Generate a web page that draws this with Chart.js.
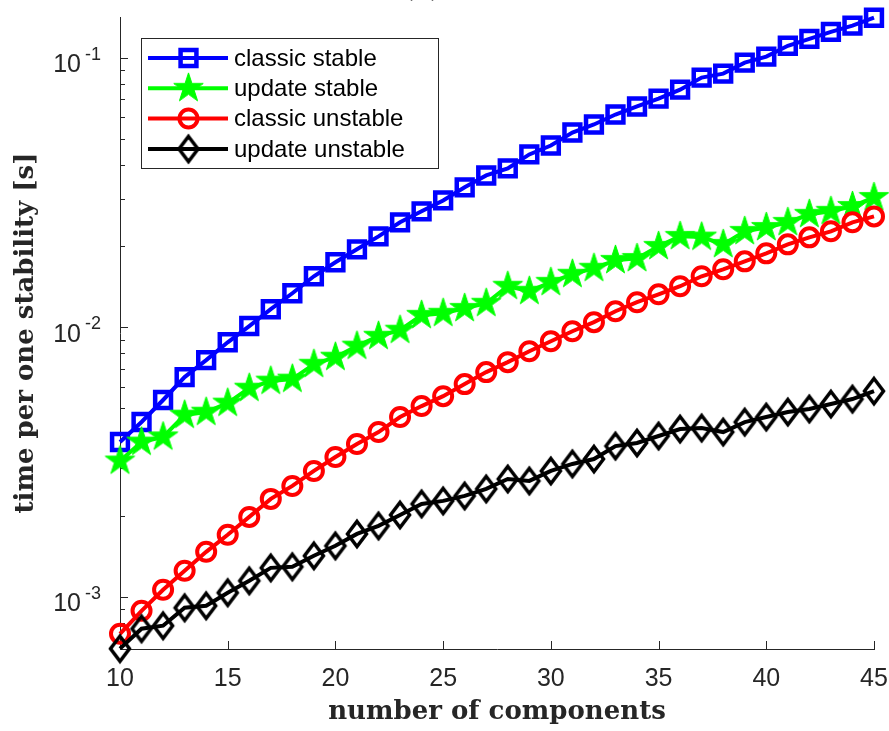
<!DOCTYPE html>
<html>
<head>
<meta charset="utf-8">
<script src="https://cdn.jsdelivr.net/npm/chart.js@4.4.1/dist/chart.umd.min.js"></script>
<style>
  html, body { margin: 0; padding: 0; background: #fff; }
  #wrap { width: 889px; height: 731px; }
</style>
</head>
<body>
<div id="wrap"><canvas id="chart"></canvas></div>
<script>
// values (seconds per stability check)
const components = [10, 11, 12, 13, 14, 15, 16, 17, 18, 19, 20, 21, 22, 23, 24, 25, 26, 27,
                    28, 29, 30, 31, 32, 33, 34, 35, 36, 37, 38, 39, 40, 41, 42, 43, 44, 45];
const classicStable = [0.00375, 0.00445, 0.00537, 0.00653, 0.00755, 0.00879, 0.0101, 0.01166, 0.01336,
                       0.01545, 0.01741, 0.01945, 0.02173, 0.02449, 0.02691, 0.02953, 0.03302, 0.03655,
                       0.03882, 0.04375, 0.04721, 0.05275, 0.05649, 0.06151, 0.06589, 0.07047, 0.07608,
                       0.08433, 0.08724, 0.0958, 0.1009, 0.1107, 0.1174, 0.1247, 0.1314, 0.1406];
const updateStable = [0.00319, 0.00375, 0.00392, 0.00472, 0.00484, 0.00523, 0.00594, 0.00631, 0.00642,
                      0.00729, 0.00774, 0.00851, 0.00926, 0.00975, 0.01107, 0.01127, 0.01175, 0.01227,
                      0.01419, 0.0136, 0.01468, 0.01572, 0.01655, 0.0177, 0.018, 0.01995, 0.02173,
                      0.0216, 0.02029, 0.02268, 0.02345, 0.02449, 0.02623, 0.02691, 0.02806, 0.0303];
const classicUnstable = [0.000729, 0.000887, 0.001062, 0.001248, 0.001468, 0.001698, 0.001978, 0.002307,
                         0.002577, 0.002929, 0.003301, 0.003687, 0.004083, 0.004642, 0.005097, 0.005548,
                         0.00615, 0.006813, 0.00742, 0.008147, 0.008873, 0.009661, 0.01044, 0.01146,
                         0.01238, 0.01324, 0.01419, 0.01545, 0.0164, 0.01755, 0.01879, 0.02029, 0.02154,
                         0.02268, 0.02449, 0.02577];
const updateUnstable = [0.000642, 0.000761, 0.000781, 0.00091, 0.000926, 0.001035, 0.001146, 0.00128,
                        0.001292, 0.001419, 0.001545, 0.001711, 0.001832, 0.002012, 0.00221, 0.002268,
                        0.002366, 0.002512, 0.002735, 0.00269, 0.002929, 0.00311, 0.003243, 0.003623,
                        0.003719, 0.003948, 0.00419, 0.004226, 0.004083, 0.004446, 0.004642, 0.004844,
                        0.004972, 0.005188, 0.005412, 0.005794];

const xTicks = [10, 15, 20, 25, 30, 35, 40, 45];
const yMajorTicks = [0.001, 0.01, 0.1];
const yTickExponents = ['-3', '-2', '-1'];
const yRange = [0.00064, 0.1415];

const axisColor = '#262626';

// minor log ticks 2..9 in each decade inside the range
const yMinorTicks = [];
[0.0001, 0.001, 0.01, 0.1].forEach(d => {
    for (let m = 2; m <= 9; m++) {
        const v = m * d;
        if (v >= yRange[0] && v <= yRange[1]) yMinorTicks.push(v);
    }
});

// marker images for the shapes chart.js doesn't have
function makeStar(color, R) {
    const c = document.createElement('canvas');
    const s = Math.ceil(2 * R + 4);
    c.width = s; c.height = s;
    const g = c.getContext('2d');
    const r = R * 0.382;
    g.beginPath();
    for (let i = 0; i < 10; i++) {
        const rad = i % 2 === 0 ? R : r;
        const a = -Math.PI / 2 + i * Math.PI / 5;
        const px = s / 2 + rad * Math.cos(a), py = s / 2 + rad * Math.sin(a);
        if (i === 0) g.moveTo(px, py); else g.lineTo(px, py);
    }
    g.closePath();
    g.fillStyle = color;
    g.strokeStyle = color;
    g.lineWidth = 1;
    g.fill();
    g.stroke();
    return c;
}

function makeDiamond(color, a, b, lw) {
    const c = document.createElement('canvas');
    const w = Math.ceil(2 * a + 2 * lw + 2), h = Math.ceil(2 * b + 2 * lw + 4);
    c.width = w; c.height = h;
    const g = c.getContext('2d');
    g.beginPath();
    g.moveTo(w / 2, h / 2 - b);
    g.lineTo(w / 2 + a, h / 2);
    g.lineTo(w / 2, h / 2 + b);
    g.lineTo(w / 2 - a, h / 2);
    g.closePath();
    g.strokeStyle = color;
    g.lineWidth = lw;
    g.stroke();
    return c;
}

const starImg = makeStar('#00ff00', 15.5);
const diamondImg = makeDiamond('#000000', 9.5, 12.5, 3.5);

function pts(arr) {
    return components.map((c, i) => ({ x: c, y: arr[i] }));
}

const datasets = [
    {
        label: 'classic stable', data: pts(classicStable),
        borderColor: '#0000ff', borderWidth: 4,
        pointStyle: 'rect', pointRadius: 11.2, pointBorderWidth: 4.5,
        pointBorderColor: '#0000ff', pointBackgroundColor: 'rgba(0,0,0,0)',
        order: 4
    },
    {
        label: 'update stable', data: pts(updateStable),
        borderColor: '#00ff00', borderWidth: 4,
        pointStyle: starImg, pointRadius: 15,
        pointBorderColor: '#00ff00', pointBackgroundColor: '#00ff00',
        order: 3
    },
    {
        label: 'classic unstable', data: pts(classicUnstable),
        borderColor: '#ff0000', borderWidth: 4,
        pointStyle: 'circle', pointRadius: 9, pointBorderWidth: 4,
        pointBorderColor: '#ff0000', pointBackgroundColor: 'rgba(0,0,0,0)',
        order: 2
    },
    {
        label: 'update unstable', data: pts(updateUnstable),
        borderColor: '#000000', borderWidth: 4,
        pointStyle: diamondImg, pointRadius: 13,
        pointBorderColor: '#000000', pointBackgroundColor: 'rgba(0,0,0,0)',
        order: 1
    }
];
datasets.forEach(d => { d.clip = false; d.tension = 0; d.fill = false; });

function noPad(s) {
    s.paddingLeft = 0; s.paddingRight = 0; s.paddingTop = 0; s.paddingBottom = 0;
}

// matlab style: inward ticks, 10^k labels, boxed legend
const matlabAxes = {
    id: 'matlabAxes',
    beforeDatasetsDraw(chart) {
        const { ctx, chartArea, scales: { x, y } } = chart;
        ctx.save();
        ctx.strokeStyle = axisColor;
        ctx.lineWidth = 1;
        ctx.beginPath();
        xTicks.forEach(v => {
            const px = Math.round(x.getPixelForValue(v)) + 0.5;
            ctx.moveTo(px, chartArea.bottom);
            ctx.lineTo(px, chartArea.bottom - 8);
        });
        yMajorTicks.forEach(v => {
            const py = Math.round(y.getPixelForValue(v)) + 0.5;
            ctx.moveTo(chartArea.left, py);
            ctx.lineTo(chartArea.left + 8, py);
        });
        yMinorTicks.forEach(v => {
            const py = Math.round(y.getPixelForValue(v)) + 0.5;
            ctx.moveTo(chartArea.left, py);
            ctx.lineTo(chartArea.left + 5, py);
        });
        ctx.stroke();

        ctx.fillStyle = axisColor;
        ctx.textBaseline = 'alphabetic';
        yMajorTicks.forEach((v, i) => {
            const py = y.getPixelForValue(v);
            ctx.font = '25px "Liberation Sans", Arial, sans-serif';
            ctx.textAlign = 'right';
            ctx.fillText('10', 81, py + 14.5);
            ctx.font = '18px "Liberation Sans", Arial, sans-serif';
            ctx.textAlign = 'left';
            ctx.fillText(yTickExponents[i], 85, py + 2);
        });
        ctx.restore();
    },
    afterDraw(chart) {
        const { ctx } = chart;
        ctx.save();
        // cropped panel title
        ctx.fillStyle = axisColor;
        ctx.font = 'bold 26px "DejaVu Serif", serif';
        ctx.textAlign = 'center';
        ctx.textBaseline = 'alphabetic';
        ctx.fillText('(a)', 422, -3);

        // legend box
        const bx = 141.5, by = 38.5, bw = 297, bh = 130;
        ctx.fillStyle = '#ffffff';
        ctx.fillRect(bx, by, bw, bh);
        ctx.strokeStyle = axisColor;
        ctx.lineWidth = 1;
        ctx.strokeRect(bx, by, bw, bh);
        const rowY = [58, 88.3, 118.5, 149];
        chart.data.datasets.forEach((ds, i) => {
            const ry = rowY[i];
            ctx.strokeStyle = ds.borderColor;
            ctx.lineWidth = ds.borderWidth;
            ctx.beginPath();
            ctx.moveTo(148, ry);
            ctx.lineTo(228, ry);
            ctx.stroke();
            ctx.fillStyle = ds.pointBackgroundColor;
            ctx.strokeStyle = ds.pointBorderColor;
            ctx.lineWidth = ds.pointBorderWidth || 1;
            Chart.helpers.drawPoint(ctx, {
                pointStyle: ds.pointStyle, radius: ds.pointRadius,
                borderWidth: ds.pointBorderWidth || 1, rotation: 0
            }, 188.5, ry);
            ctx.fillStyle = '#000000';
            ctx.font = '24px "Liberation Sans", Arial, sans-serif';
            ctx.textAlign = 'left';
            ctx.textBaseline = 'middle';
            ctx.fillText(ds.label, 234, ry + 1);
        });
        ctx.restore();
    }
};

new Chart(document.getElementById('chart'), {
    type: 'line',
    data: { datasets },
    plugins: [matlabAxes],
    options: {
        responsive: true,
        maintainAspectRatio: false,
        animation: false,
        events: [],
        layout: { autoPadding: false, padding: { left: 0, right: 15, top: 17, bottom: 0 } },
        plugins: { legend: { display: false }, title: { display: false }, tooltip: { enabled: false } },
        scales: {
            x: {
                type: 'linear', min: 10, max: 45,
                afterBuildTicks: s => { s.ticks = xTicks.map(v => ({ value: v })); },
                afterFit: s => { s.height = 82; noPad(s); },
                grid: { display: false, drawTicks: false },
                border: { display: true, color: axisColor, width: 1 },
                ticks: {
                    autoSkip: false, maxRotation: 0, padding: 15, color: axisColor,
                    font: { family: '"Liberation Sans", Arial, sans-serif', size: 25 }
                },
                title: {
                    display: true, text: 'number of components', color: axisColor,
                    font: { family: '"DejaVu Serif", serif', weight: 'bold', size: 26 },
                    padding: { top: 0, bottom: 3 }
                }
            },
            y: {
                type: 'logarithmic', min: yRange[0], max: yRange[1], bounds: 'data',
                // keep the exact range, chart.js rounds the log min otherwise
                afterBuildTicks: s => { s.min = yRange[0]; s.max = yRange[1]; },
                afterFit: s => { s.width = 120; noPad(s); },
                grid: { display: false, drawTicks: false },
                border: { display: true, color: axisColor, width: 1 },
                ticks: { display: false },
                title: {
                    display: true, text: 'time per one stability [s]', color: axisColor,
                    font: { family: '"DejaVu Serif", serif', weight: 'bold', size: 26 },
                    padding: { top: 11, bottom: 0 }
                }
            }
        }
    }
});
</script>
</body>
</html>
